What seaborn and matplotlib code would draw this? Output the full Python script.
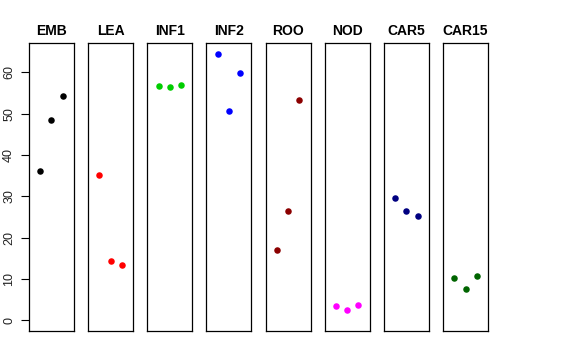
import matplotlib
matplotlib.use("Agg")
import matplotlib.pyplot as plt
import seaborn as sns
import pandas as pd

# tissue groups, three samples each
groups = ["EMB", "LEA", "INF1", "INF2", "ROO", "NOD", "CAR5", "CAR15"]
colors = ["#000000", "#FF0000", "#00CD00", "#0000FF", "#8B0000", "#FF00FF", "#000080", "#006400"]
sample = [1, 2, 3]

emb = [36.1, 48.4, 54.2]
lea = [35.2, 14.3, 13.4]
inf1 = [56.6, 56.4, 56.9]
inf2 = [64.5, 50.6, 59.9]
roo = [16.9, 26.5, 53.3]
nod = [3.4, 2.4, 3.7]
car5 = [29.6, 26.4, 25.2]
car15 = [10.3, 7.6, 10.7]

values = [emb, lea, inf1, inf2, roo, nod, car5, car15]

sns.set_style("white")
plt.rcParams["font.family"] = ["Liberation Sans", "DejaVu Sans"]
plt.rcParams["text.color"] = "black"

fig, axes = plt.subplots(1, 8, figsize=(5.76, 3.6), dpi=100, sharey=True)
fig.subplots_adjust(left=29 / 576, right=488 / 576, top=1 - 43 / 360, bottom=1 - 331 / 360, wspace=0.315)

for i, ax in enumerate(axes):
    df = pd.DataFrame({"x": sample, "y": values[i]})
    sns.scatterplot(data=df, x="x", y="y", color=colors[i], s=22, linewidth=0, ax=ax)
    ax.set_xlim(0, 4)
    ax.set_ylim(-2.6, 67.1)
    ax.set_title(groups[i], fontweight="bold", fontsize=10, pad=6, color="black")
    ax.set_xlabel("")
    ax.set_ylabel("")
    ax.set_xticks([])
    for sp in ax.spines.values():
        sp.set_visible(True)
        sp.set_color("black")
        sp.set_linewidth(0.9)
    if i == 0:
        ax.set_yticks([0, 10, 20, 30, 40, 50, 60])
        ax.tick_params(axis="y", left=True, length=6, width=0.8, pad=4, labelsize=9,
                       color="black", labelcolor="#222222")
        for lab in ax.get_yticklabels():
            lab.set_rotation(90)
            lab.set_va("center")
    else:
        ax.tick_params(axis="y", left=False, labelleft=False)

fig.savefig("out.png", dpi=100)
